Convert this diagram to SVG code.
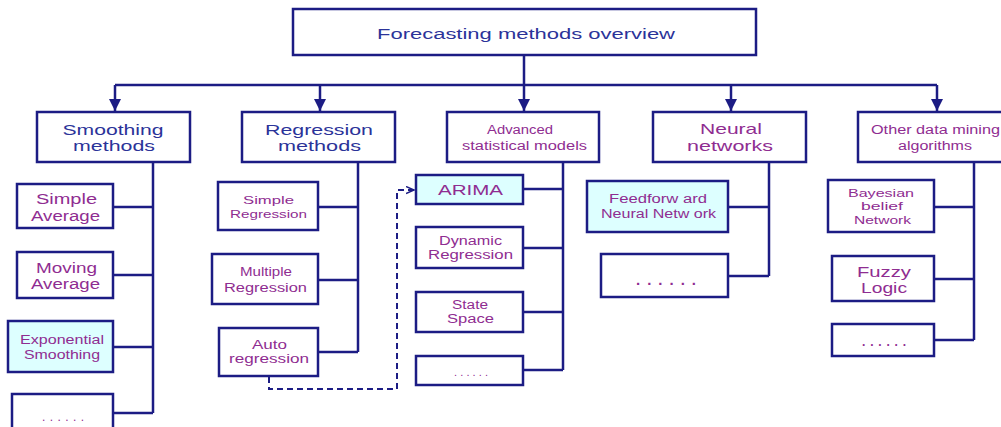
<svg xmlns="http://www.w3.org/2000/svg" width="1001" height="427" viewBox="0 0 1001 427">
<defs>
<marker id="arr" markerUnits="userSpaceOnUse" markerWidth="14" markerHeight="12" refX="12" refY="6" orient="auto">
<path d="M0,0 L12,6 L0,12 Z" fill="#1c1c84"/>
</marker>
<marker id="open" markerUnits="userSpaceOnUse" markerWidth="10" markerHeight="10" refX="8" refY="4" orient="auto">
<path d="M0,0.5 L8,4 L0,7.5" fill="none" stroke="#1c1c84" stroke-width="1.5"/>
</marker>
<style>
.b{fill:#fff;stroke:#1c1c84;stroke-width:2.5}
.c{fill:#ddffff;stroke:#1c1c84;stroke-width:2.5}
.l{fill:none;stroke:#1c1c84;stroke-width:2.5}
.d{fill:none;stroke:#1c1c84;stroke-width:2;stroke-dasharray:6,4}
text{font-family:"Liberation Sans",Arial,sans-serif;text-anchor:middle}
.bl{fill:#2b3399}
.p{fill:#8f2d91}
</style>
</defs>
<rect width="1001" height="427" fill="#fff"/>
<g id="connectors">
<path class="l" d="M524,55 V85 M115,85 H937"/>
<path class="l" d="M115,85 V111" marker-end="url(#arr)"/>
<path class="l" d="M320,85 V111" marker-end="url(#arr)"/>
<path class="l" d="M524,85 V111" marker-end="url(#arr)"/>
<path class="l" d="M731,85 V111" marker-end="url(#arr)"/>
<path class="l" d="M937,85 V111" marker-end="url(#arr)"/>
<path class="l" d="M153,162 V413 M113,207 H153 M113,275 H153 M113,347 H153 M113,413 H153"/>
<path class="l" d="M358,162 V352 M318,207 H358 M318,280 H358 M318,352 H358"/>
<path class="l" d="M563,162 V370 M523,189 H563 M523,248 H563 M523,312 H563 M523,370 H563"/>
<path class="l" d="M769,162 V276 M728,207 H769 M728,276 H769"/>
<path class="l" d="M974,162 V340 M934,207 H974 M934,279 H974 M934,340 H974"/>
<path class="d" d="M269,377 V389 H397 V190 H414" marker-end="url(#open)"/>
</g>
<g id="root">
<rect class="b" x="293" y="9" width="463" height="46"/>
<text class="bl" x="526" y="39" font-size="14" textLength="298" lengthAdjust="spacingAndGlyphs">Forecasting methods overview</text>
</g>
<g id="smoothing">
<rect class="b" x="37" y="112" width="153" height="50"/>
<text class="bl" x="113" y="135" font-size="15" textLength="101" lengthAdjust="spacingAndGlyphs">Smoothing</text>
<text class="bl" x="114" y="151" font-size="15" textLength="82" lengthAdjust="spacingAndGlyphs">methods</text>
</g>
<g id="regression">
<rect class="b" x="242" y="112" width="153" height="50"/>
<text class="bl" x="319" y="135" font-size="15" textLength="108" lengthAdjust="spacingAndGlyphs">Regression</text>
<text class="bl" x="319.5" y="151" font-size="15" textLength="83" lengthAdjust="spacingAndGlyphs">methods</text>
</g>
<g id="advanced">
<rect class="b" x="447" y="112" width="152" height="50"/>
<text class="p" x="520" y="134" font-size="12" textLength="66" lengthAdjust="spacingAndGlyphs">Advanced</text>
<text class="p" x="524.5" y="150" font-size="12" textLength="125" lengthAdjust="spacingAndGlyphs">statistical models</text>
</g>
<g id="neural">
<rect class="b" x="653" y="112" width="153" height="50"/>
<text class="p" x="731" y="134" font-size="15" textLength="62" lengthAdjust="spacingAndGlyphs">Neural</text>
<text class="p" x="730" y="151" font-size="15" textLength="86" lengthAdjust="spacingAndGlyphs">networks</text>
</g>
<g id="other">
<rect class="b" x="858" y="112" width="160" height="50"/>
<text class="p" x="935.5" y="134" font-size="12" textLength="129" lengthAdjust="spacingAndGlyphs">Other data mining</text>
<text class="p" x="935" y="150" font-size="12" textLength="74" lengthAdjust="spacingAndGlyphs">algorithms</text>
</g>
<g id="simple-average">
<rect class="b" x="17" y="184" width="96" height="44"/>
<text class="p" x="66.5" y="204" font-size="14" textLength="61" lengthAdjust="spacingAndGlyphs">Simple</text>
<text class="p" x="65.5" y="221" font-size="14" textLength="69" lengthAdjust="spacingAndGlyphs">Average</text>
</g>
<g id="moving-average">
<rect class="b" x="17" y="252" width="96" height="46"/>
<text class="p" x="66.5" y="273" font-size="14" textLength="61" lengthAdjust="spacingAndGlyphs">Moving</text>
<text class="p" x="65.5" y="289" font-size="14" textLength="69" lengthAdjust="spacingAndGlyphs">Average</text>
</g>
<g id="exponential-smoothing">
<rect class="c" x="8" y="321" width="105" height="51"/>
<text class="p" x="62" y="344" font-size="12" textLength="84" lengthAdjust="spacingAndGlyphs">Exponential</text>
<text class="p" x="62" y="359" font-size="12" textLength="76" lengthAdjust="spacingAndGlyphs">Smoothing</text>
</g>
<g id="smoothing-more">
<rect class="b" x="12" y="394" width="101" height="50"/>
<text class="p" x="63" y="421" font-size="12" textLength="42" lengthAdjust="spacing">......</text>
</g>
<g id="simple-regression">
<rect class="b" x="218" y="182" width="100" height="48"/>
<text class="p" x="268.5" y="204" font-size="11" textLength="51" lengthAdjust="spacingAndGlyphs">Simple</text>
<text class="p" x="268.5" y="218" font-size="11" textLength="77" lengthAdjust="spacingAndGlyphs">Regression</text>
</g>
<g id="multiple-regression">
<rect class="b" x="212" y="254" width="106" height="50"/>
<text class="p" x="266" y="276" font-size="12" textLength="52" lengthAdjust="spacingAndGlyphs">Multiple</text>
<text class="p" x="265.5" y="292" font-size="12" textLength="83" lengthAdjust="spacingAndGlyphs">Regression</text>
</g>
<g id="auto-regression">
<rect class="b" x="219" y="328" width="99" height="48"/>
<text class="p" x="269.5" y="349" font-size="12" textLength="35" lengthAdjust="spacingAndGlyphs">Auto</text>
<text class="p" x="269" y="363" font-size="12" textLength="80" lengthAdjust="spacingAndGlyphs">regression</text>
</g>
<g id="arima">
<rect class="c" x="416" y="175" width="107" height="29"/>
<text class="p" x="470.5" y="195" font-size="15" textLength="65" lengthAdjust="spacingAndGlyphs">ARIMA</text>
</g>
<g id="dynamic-regression">
<rect class="b" x="416" y="227" width="107" height="41"/>
<text class="p" x="470.5" y="245" font-size="12" textLength="63" lengthAdjust="spacingAndGlyphs">Dynamic</text>
<text class="p" x="470.5" y="259" font-size="12" textLength="85" lengthAdjust="spacingAndGlyphs">Regression</text>
</g>
<g id="state-space">
<rect class="b" x="416" y="292" width="107" height="40"/>
<text class="p" x="470" y="309" font-size="12" textLength="36" lengthAdjust="spacingAndGlyphs">State</text>
<text class="p" x="470.5" y="323" font-size="12" textLength="47" lengthAdjust="spacingAndGlyphs">Space</text>
</g>
<g id="advanced-more">
<rect class="b" x="416" y="356" width="107" height="29"/>
<text class="p" x="471" y="376" font-size="11" textLength="34" lengthAdjust="spacing">......</text>
</g>
<g id="feedforward">
<rect class="c" x="587" y="181" width="141" height="51"/>
<text class="p" x="658" y="203" font-size="12" textLength="98" lengthAdjust="spacingAndGlyphs">Feedforw ard</text>
<text class="p" x="658.5" y="218" font-size="12" textLength="115" lengthAdjust="spacingAndGlyphs">Neural Netw ork</text>
</g>
<g id="neural-more">
<rect class="b" x="601" y="254" width="127" height="43"/>
<text class="p" x="666" y="285" font-size="15" font-weight="bold" textLength="60" lengthAdjust="spacing">......</text>
</g>
<g id="bayesian">
<rect class="b" x="828" y="180" width="106" height="52"/>
<text class="p" x="881" y="197" font-size="11" textLength="66" lengthAdjust="spacingAndGlyphs">Bayesian</text>
<text class="p" x="882" y="210" font-size="11" textLength="42" lengthAdjust="spacingAndGlyphs">belief</text>
<text class="p" x="882.5" y="224" font-size="11" textLength="57" lengthAdjust="spacingAndGlyphs">Network</text>
</g>
<g id="fuzzy">
<rect class="b" x="832" y="256" width="102" height="45"/>
<text class="p" x="884" y="277" font-size="15" textLength="54" lengthAdjust="spacingAndGlyphs">Fuzzy</text>
<text class="p" x="884" y="293" font-size="15" textLength="46" lengthAdjust="spacingAndGlyphs">Logic</text>
</g>
<g id="other-more">
<rect class="b" x="832" y="324" width="102" height="32"/>
<text class="p" x="884" y="346" font-size="12" font-weight="bold" textLength="44" lengthAdjust="spacing">......</text>
</g>
</svg>
